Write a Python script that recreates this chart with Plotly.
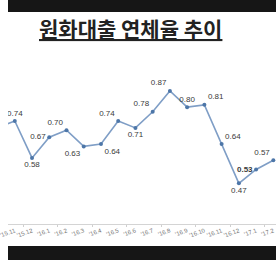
import plotly.graph_objects as go

months = ["'15.10", "'15.11", "'15.12", "'16.1", "'16.2", "'16.3", "'16.4", "'16.5", "'16.6",
          "'16.7", "'16.8", "'16.9", "'16.10", "'16.11", "'16.12", "'17.1", "'17.2"]
rates = [0.71, 0.74, 0.58, 0.67, 0.70, 0.63, 0.64, 0.74, 0.71,
         0.78, 0.87, 0.80, 0.81, 0.64, 0.47, 0.53, 0.57]
label_pos = ["top center", "top center", "bottom center", "middle left", "top left", "bottom left",
             "bottom right", "top left", "bottom center", "top left", "top left", "top center",
             "top right", "top right", "bottom center", "middle left", "top left"]
title_text = "원화대출 연체율 추이"

labels = [""] + ["<b>%.2f</b>" % v if m == "'17.1" else "%.2f" % v for m, v in zip(months[1:], rates[1:])]

fig = go.Figure()
fig.add_trace(go.Scatter(
    x=months, y=rates, mode="lines+markers+text",
    line=dict(color="#7f9ec6", width=1.6),
    marker=dict(color="#4d76a8", size=4),
    text=labels, textposition=label_pos,
    textfont=dict(family="Liberation Sans, Arial", size=8, color="#3a3a3a"),
    cliponaxis=True, showlegend=False, hoverinfo="skip",
))
# tick marks between categories (every second boundary)
fig.add_trace(go.Scatter(x=[None], y=[None], xaxis="x2", showlegend=False))

fig.update_layout(
    width=276, height=260,
    margin=dict(l=0, r=0, t=12, b=36),
    paper_bgcolor="white", plot_bgcolor="white",
    xaxis=dict(type="category", range=[0.606, 16.155], showgrid=False,
               showline=True, linecolor="#d4d4d4", linewidth=1,
               ticks="", tickangle=-20,
               tickfont=dict(family="Liberation Sans, Arial", size=6, color="#707070")),
    xaxis2=dict(overlaying="x", range=[0.606, 16.155], tickvals=[1.5, 3.5, 5.5, 7.5, 9.5, 11.5, 13.5, 15.5],
                showticklabels=False, ticks="outside", ticklen=2, tickcolor="#cfcfcf",
                showgrid=False, zeroline=False, anchor="y", side="bottom"),
    yaxis=dict(range=[0.294, 1.212], visible=False),
    shapes=[
        dict(type="rect", xref="paper", yref="paper", x0=0, x1=1, y0=1, y1=1.06,
             fillcolor="#161616", line=dict(width=0), layer="above"),
        dict(type="rect", xref="paper", yref="paper", x0=0, x1=1, y0=-0.104, y1=-0.175,
             fillcolor="#161616", line=dict(width=0), layer="above"),
    ],
    annotations=[dict(
        text="<u>" + title_text + "</u>", xref="paper", yref="paper",
        x=126 / 276, y=0.9245, xanchor="center", yanchor="middle", showarrow=False,
        font=dict(family="Noto Sans CJK KR", size=21, color="#222222", weight="bold"),
    )],
)

fig.write_html("out.html")
